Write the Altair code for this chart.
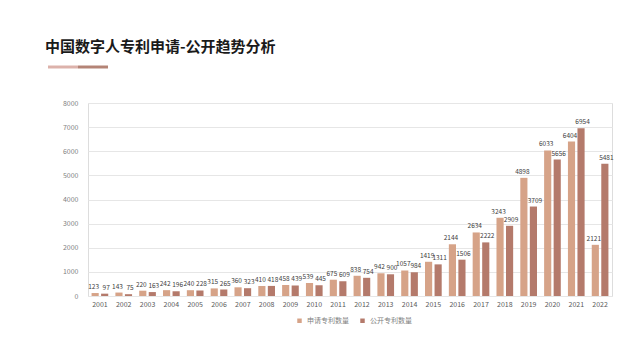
import altair as alt
import pandas as pd

years = [str(y) for y in range(2001, 2023)]
applied = [123, 143, 220, 242, 240, 315, 360, 410, 458, 539, 675, 838, 942, 1057,
           1419, 2144, 2634, 3243, 4898, 6033, 6404, 2121]
published = [97, 75, 163, 196, 228, 265, 323, 418, 439, 445, 609, 754, 900, 984,
             1311, 1506, 2222, 2909, 3709, 5656, 6954, 5481]
series = ["申请专利数量", "公开专利数量"]
colors = ["#d6a388", "#b47a6b"]
title_text = "中国数字人专利申请-公开趋势分析"

rows = []
for i, y in enumerate(years):
    rows.append({"year": y, "series": series[0], "value": applied[i]})
    rows.append({"year": y, "series": series[1], "value": published[i]})
df = pd.DataFrame(rows)

FONT = "Noto Sans CJK SC"

yaxis = alt.Axis(title=None, values=list(range(0, 8001, 1000)), tickCount=9, format="d",
                 labelOverlap=False, domain=False, ticks=False, labelFontSize=7,
                 labelColor="#7f7f7f", labelPadding=10, labelFont=FONT,
                 gridColor="#e6e6e6", gridWidth=1)

base = alt.Chart(df).encode(
    x=alt.X("year:N", sort=years,
            scale=alt.Scale(paddingInner=0.3, paddingOuter=0.15),
            axis=alt.Axis(title=None, labelAngle=0, domain=False, ticks=False,
                          labelFontSize=7, labelColor="#595959", labelPadding=4,
                          labelFont=FONT, grid=False)),
    xOffset=alt.XOffset("series:N", sort=series,
                        scale=alt.Scale(paddingInner=0.25)),
    y=alt.Y("value:Q", scale=alt.Scale(domain=[0, 8000]), axis=yaxis),
)

bars = base.mark_bar().encode(
    color=alt.Color("series:N", sort=series,
                    scale=alt.Scale(domain=series, range=colors),
                    legend=alt.Legend(title=None, orient="none", direction="horizontal",
                                      legendX=208, legendY=214, symbolType="square",
                                      symbolSize=20, labelFontSize=7, labelColor="#7f7f7f",
                                      labelFont=FONT, columnPadding=10, symbolStrokeWidth=0)),
)

labels_a = base.mark_text(dy=-6, dx=-1.5, fontSize=6.5, color="#404040", font=FONT).encode(
    text=alt.Text("value:Q")).transform_filter(alt.datum.series == series[0])
labels_p = base.mark_text(dy=-6, dx=1.5, fontSize=6.5, color="#404040", font=FONT).encode(
    text=alt.Text("value:Q")).transform_filter(alt.datum.series == series[1])

one = pd.DataFrame({"t": [title_text]})
title = alt.Chart(one).mark_text(align="left", baseline="middle", fontSize=15,
                                 fontWeight="bold", color="#1a1a1a", font=FONT).encode(
    x=alt.value(-43), y=alt.value(-56), text="t:N")
line1 = alt.Chart(one).mark_rule(color="#dcb2ab", strokeWidth=3).encode(
    x=alt.value(-40), x2=alt.value(-10), y=alt.value(-36))
line2 = alt.Chart(one).mark_rule(color="#b48476", strokeWidth=3).encode(
    x=alt.value(-10), x2=alt.value(20), y=alt.value(-36))

chart = alt.layer(bars, labels_a, labels_p, title, line1, line2).properties(
    width=524, height=193,
    padding={"left": 80, "top": 95, "right": 20, "bottom": 56},
    autosize=alt.AutoSizeParams(type="none"),
).configure_view(stroke=None).configure(background="white")

chart.save("out.html", embed_options={"renderer": "svg", "actions": False})
